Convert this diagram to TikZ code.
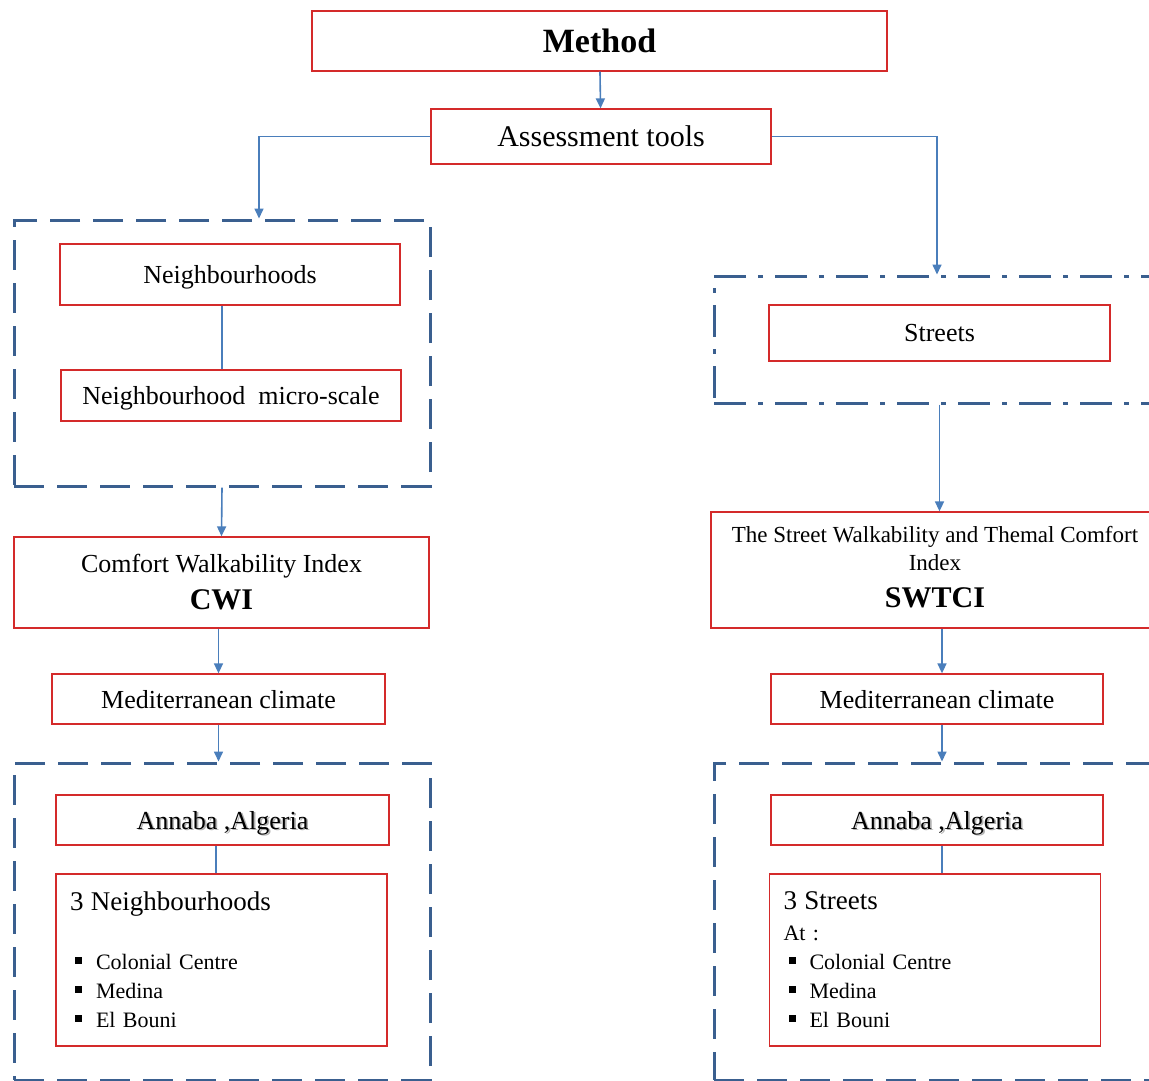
\documentclass[tikz,border=0pt]{standalone}
\usepackage{fontspec}
\setmainfont{Liberation Serif}
\definecolor{boxRed}{HTML}{D42A2A}
\definecolor{linkBlue}{HTML}{4A7EBB}
\definecolor{frameBlue}{HTML}{3A5F8F}
\usetikzlibrary{arrows.meta, positioning}
\newcommand{\sqbullet}{\hspace*{5pt}\makebox[21pt][l]{\rule[6pt]{7pt}{7pt}}}
\newcommand{\shadowed}[1]{\leavevmode\rlap{\kern1.6pt\raisebox{-1.6pt}{\textcolor{black!30}{#1}}}#1}

\begin{document}
\begin{tikzpicture}[
        x=1pt, y=-1pt,
        redbox/.style={
          draw=boxRed,
          fill=white,
          line width=1.3pt,
          inner sep=0pt,
          align=center,
          font=\fontsize{26}{30}\selectfont,
        },
        linebox/.style={redbox, text depth=0pt},
        listbox/.style={redbox, align=left, inner xsep=14pt, text width=303pt,
          minimum height=172pt, font=\fontsize{22}{29}\selectfont},
        frame/.style={draw=frameBlue, line width=3pt, dash pattern=on 30pt off 13pt, inner sep=0pt},
        dotframe/.style={frame, dash pattern=on 32pt off 12pt on 5pt off 12pt},
        arr/.style={-{Triangle[length=10pt, width=9pt]}, linkBlue, line width=1.6pt},
        link/.style={linkBlue, line width=1.6pt},
      ]
        \useasboundingbox (0,0) rectangle (1149,1080);

        \node[frame, minimum width=416pt, minimum height=266pt] (nbframe) at (222,353) {};
        \node[dotframe, minimum width=471pt, minimum height=127pt] (strframe) at (949.5,339.5) {};
        \node[frame, minimum width=416pt, minimum height=317pt] (siteframeL) at (222,921.5) {};
        \node[frame, minimum width=471pt, minimum height=317pt] (siteframeR) at (949.5,921.5) {};

        \node[redbox, minimum width=575pt, minimum height=60pt, font=\fontsize{34}{38}\selectfont\bfseries] (method) at (599.5,41) {Method};
        \node[redbox, minimum width=340pt, minimum height=55pt, font=\fontsize{30}{34}\selectfont] (tools) at (601,136.5) {Assessment tools};

        \node[linebox, minimum width=340pt, minimum height=61pt] (nbh) at (230,274.5) {Neighbourhoods};
        \node[linebox, minimum width=340pt, minimum height=51pt] (micro) at (231,395.5) {Neighbourhood\ \ micro-scale};
        \node[redbox, minimum width=415pt, minimum height=91pt] (cwi) at (221.5,582.5) {Comfort Walkability Index\\[7pt]{\fontsize{30}{34}\selectfont\bfseries CWI}};
        \node[linebox, minimum width=333pt, minimum height=50pt] (medL) at (218.5,699) {Mediterranean climate};
        \node[linebox, minimum width=333pt, minimum height=50pt] (cityL) at (222.5,820) {\shadowed{Annaba ,Algeria}};
        \node[listbox] (listL) at (221.5,960) {{\fontsize{27}{30}\selectfont 3 Neighbourhoods}\\[30pt]
          \sqbullet Colonial Centre\\
          \sqbullet Medina\\
          \sqbullet El Bouni};

        \node[linebox, minimum width=341pt, minimum height=56pt] (streets) at (939.5,333) {Streets};
        \node[redbox, minimum width=448pt, minimum height=116pt, text depth=6pt, font=\fontsize{23}{28}\selectfont] (swtci) at (935,570) {The Street Walkability and Themal Comfort\\Index\\[9pt]{\fontsize{30}{34}\selectfont\bfseries SWTCI}};
        \node[linebox, minimum width=332pt, minimum height=50pt] (medR) at (937,699) {Mediterranean climate};
        \node[linebox, minimum width=332pt, minimum height=50pt] (cityR) at (937,820) {\shadowed{Annaba ,Algeria}};
        \node[listbox] (listR) at (935,960) {{\fontsize{27}{30}\selectfont 3 Streets}\\[2pt]
          At :\\
          \sqbullet Colonial Centre\\
          \sqbullet Medina\\
          \sqbullet El Bouni};

        \draw[arr] (method) -- (tools);
        \draw[arr] (tools.west) -| ([xshift=37pt]nbframe.north);
        \draw[arr] (tools.east) -| ([xshift=-12.5pt]strframe.north);
        \draw[link] ([xshift=-8pt]nbh.south) -- ([xshift=-9pt]micro.north);
        \draw[arr] (nbframe.south) -- (cwi.north);
        \draw[arr] (medL.north |- cwi.south) -- (medL.north);
        \draw[arr] (medL.south) -- (medL.south |- siteframeL.north);
        \draw[link] ([xshift=-6.5pt]cityL.south) -- ([xshift=-5.5pt]listL.north);
        \draw[arr] (streets.south |- strframe.south) -- (streets.south |- swtci.north);
        \draw[arr] ([xshift=5pt]medR.north |- swtci.south) -- ([xshift=5pt]medR.north);
        \draw[arr] ([xshift=5pt]medR.south) -- ([xshift=5pt]medR.south |- siteframeR.north);
        \draw[link] ([xshift=5pt]cityR.south) -- ([xshift=7pt]listR.north);
      \end{tikzpicture}
\end{document}
